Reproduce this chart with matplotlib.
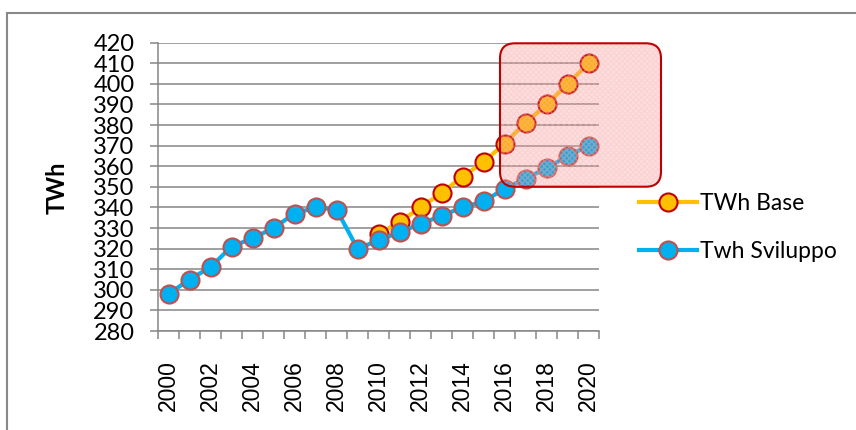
import matplotlib
matplotlib.use("Agg")
import matplotlib.pyplot as plt
from matplotlib.patches import FancyBboxPatch, Rectangle
from matplotlib.lines import Line2D
from matplotlib.transforms import IdentityTransform
import numpy as np

years = list(range(2000, 2021))
twh_base = [None] * 10 + [327, 333, 340, 347, 355, 362, 371, 381, 390, 400, 410]
twh_sviluppo = [298, 305, 311, 321, 325, 330, 337, 340, 339, 320,
                324, 328, 332, 336, 340, 343, 349, 354, 359, 365, 370]
year_labels = [str(y) for y in years[::2]]

ORANGE = "#FFC000"
BLUE = "#00B0F0"
GRID = "#868686"

W, H = 856, 430
fig = plt.figure(figsize=(W / 100, H / 100), dpi=100)
ax = fig.add_axes([158 / W, 1 - 331 / H, (599 - 158) / W, (331 - 42.7) / H])

x = np.arange(len(years))
base = np.array([np.nan if v is None else v for v in twh_base], dtype=float)
svil = np.array(twh_sviluppo, dtype=float)

ax.plot(x, base, color=ORANGE, lw=3.0, marker="o", ms=13,
        mfc=ORANGE, mec="#C00000", mew=1.5, zorder=3)
ax.plot(x, svil, color=BLUE, lw=3.0, marker="o", ms=13,
        mfc=BLUE, mec="#C0504D", mew=1.5, zorder=4)

ax.set_xlim(-0.5, len(years) - 0.5)
ax.set_ylim(280, 420)
ax.set_yticks(np.arange(280, 421, 10))
ax.yaxis.grid(True, color=GRID, lw=1.1)
ax.set_axisbelow(True)

# category ticks sit between the years, labels every second year
ax.set_xticks(np.arange(-0.5, len(years), 1.0), minor=False)
ax.set_xticklabels([])
ax.set_xticks(x[::2], minor=True)
ax.set_xticklabels(year_labels, minor=True, rotation=90,
                   fontfamily="Liberation Sans", fontsize=16.5)
ax.tick_params(axis="x", which="major", length=6, width=1.1, color=GRID)
ax.tick_params(axis="x", which="minor", length=0, pad=21)
ax.tick_params(axis="y", length=6, width=1.1, color=GRID, pad=11)
for lbl in ax.get_yticklabels():
    lbl.set_fontfamily("Lato")
    lbl.set_fontsize(17)

for side in ("top", "right"):
    ax.spines[side].set_visible(False)
for side in ("left", "bottom"):
    ax.spines[side].set_color(GRID)
    ax.spines[side].set_linewidth(1.1)

fig.text(57 / W, 1 - 188 / H, "TWh", rotation=90, ha="center", va="center",
         fontfamily="Lato", fontweight="bold", fontsize=17)

# highlight box around the forecast years: translucent fill, fine
# checker hatch, then the rounded dark-red outline on top
bx, by, bw, bh, r = 500, H - 186.7, 161, 143.4, 15
fill = FancyBboxPatch((bx + r, by + r), bw - 2 * r, bh - 2 * r,
                      boxstyle=f"round,pad={r}", transform=IdentityTransform(),
                      facecolor=(0.93, 0.45, 0.45, 0.22), edgecolor="none",
                      zorder=6)
checker = FancyBboxPatch((bx + r, by + r), bw - 2 * r, bh - 2 * r,
                         boxstyle=f"round,pad={r}", transform=IdentityTransform(),
                         facecolor="none", edgecolor=(1.0, 0.72, 0.72, 0.35),
                         lw=0, hatch="xxxxxx", zorder=6)
outline = FancyBboxPatch((bx + r, by + r), bw - 2 * r, bh - 2 * r,
                         boxstyle=f"round,pad={r}", transform=IdentityTransform(),
                         facecolor="none", edgecolor="#C00000", lw=1.5,
                         zorder=7)
for p in (fill, checker, outline):
    fig.patches.append(p)

# outer chart frame (only top and left edges visible)
frame = Rectangle((7, -20), W + 40, H - 13 + 20, transform=IdentityTransform(),
                  fill=False, edgecolor="#898989", lw=1.5)
fig.patches.append(frame)

handles = [
    Line2D([], [], color=ORANGE, lw=3.0, marker="o", ms=13, mfc=ORANGE,
           mec="#C00000", mew=1.5),
    Line2D([], [], color=BLUE, lw=3.0, marker="o", ms=13, mfc=BLUE,
           mec="#C0504D", mew=1.5),
]
fig.legend(handles, ["TWh Base", "Twh Sviluppo"], loc="upper left",
           bbox_to_anchor=(628 / W, 1 - 182 / H), frameon=False,
           prop={"family": "Lato", "size": 16.5}, handlelength=2.5,
           handletextpad=0.12, labelspacing=1.15, borderpad=0)

fig.savefig("out.png", dpi=100)
